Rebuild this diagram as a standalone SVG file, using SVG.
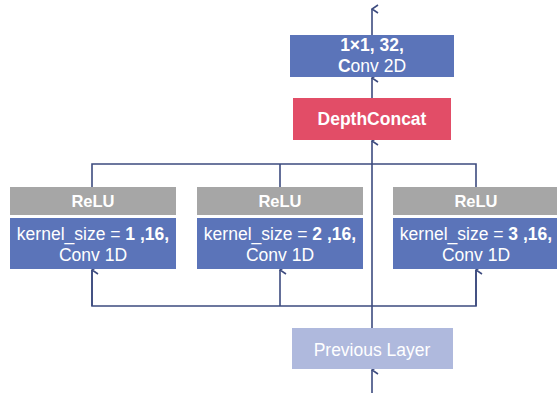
<svg xmlns="http://www.w3.org/2000/svg" width="557" height="393" viewBox="0 0 557 393">
<style>
.conv{fill:#5B74B9}
.relu{fill:#A6A6A6}
.t{font-family:"Liberation Sans",Arial,sans-serif;fill:#fff;text-anchor:middle;font-size:17.5px}
.t.r{font-size:16.5px;font-weight:bold}
.b{font-weight:bold}
.ln{fill:none;stroke:#3D4B7F;stroke-width:1.6}
</style>
<defs>
<marker id="ah" viewBox="0 0 10 10" refX="5" refY="1" markerWidth="10" markerHeight="10" markerUnits="userSpaceOnUse" orient="auto-start-reverse">
<polyline points="1,7 5,1 9,7" fill="none" stroke="#3D4B7F" stroke-width="1.6"/>
</marker>
</defs>
<rect width="557" height="393" fill="#fff"/>
<g id="connectors">
<line class="ln" x1="372" y1="35" x2="372" y2="9" marker-end="url(#ah)"/>
<line class="ln" x1="372" y1="98" x2="372" y2="78" marker-end="url(#ah)"/>
<line class="ln" x1="372" y1="328" x2="372" y2="141" marker-end="url(#ah)"/>
<line class="ln" x1="372" y1="393" x2="372" y2="370" marker-end="url(#ah)"/>
<polyline class="ln" points="92,187 92,164 476,164 476,187"/>
<line class="ln" x1="280" y1="187" x2="280" y2="164"/>
<polyline class="ln" points="92,270 92,306 476,306 476,270"/>
<line class="ln" x1="92" y1="306" x2="92" y2="270" marker-end="url(#ah)"/>
<line class="ln" x1="280" y1="306" x2="280" y2="270" marker-end="url(#ah)"/>
<line class="ln" x1="476" y1="306" x2="476" y2="270" marker-end="url(#ah)"/>
</g>
<g id="conv2d">
<rect class="conv" x="290" y="35" width="164" height="42"/>
<text class="t b" x="372" y="51">1×1, 32,</text>
<text class="t" x="372" y="72"><tspan class="b">C</tspan>onv 2D</text>
</g>
<g id="depthconcat">
<rect x="293" y="98" width="158" height="42" fill="#E24D67"/>
<text class="t b" x="372" y="125">DepthConcat</text>
</g>
<g id="branch1">
<rect class="relu" x="10" y="187" width="166" height="28"/>
<text class="t r" x="93" y="207">ReLU</text>
<rect class="conv" x="10" y="218" width="166" height="51"/>
<text class="t" x="93" y="240">kernel_size = <tspan class="b">1 ,16,</tspan></text>
<text class="t" x="93" y="261">Conv 1D</text>
</g>
<g id="branch2">
<rect class="relu" x="197" y="187" width="166" height="28"/>
<text class="t r" x="280" y="207">ReLU</text>
<rect class="conv" x="197" y="218" width="166" height="51"/>
<text class="t" x="280" y="240">kernel_size = <tspan class="b">2 ,16,</tspan></text>
<text class="t" x="280" y="261">Conv 1D</text>
</g>
<g id="branch3">
<rect class="relu" x="393" y="187" width="166" height="28"/>
<text class="t r" x="476" y="207">ReLU</text>
<rect class="conv" x="393" y="218" width="166" height="51"/>
<text class="t" x="476" y="240">kernel_size = <tspan class="b">3 ,16,</tspan></text>
<text class="t" x="476" y="261">Conv 1D</text>
</g>
<g id="previous">
<rect x="292" y="328" width="161" height="41" fill="#AFB9DD"/>
<text class="t" x="372" y="356">Previous Layer</text>
</g>
</svg>
